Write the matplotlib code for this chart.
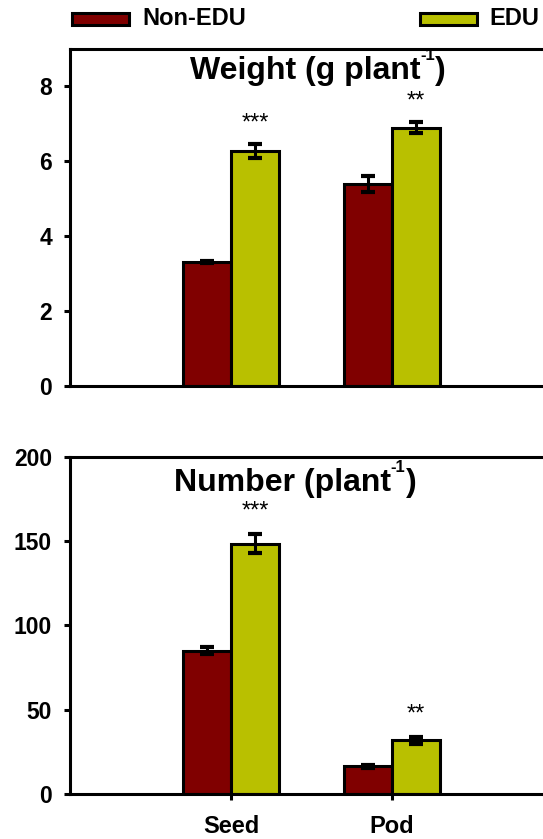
import matplotlib
matplotlib.use("Agg")
import matplotlib.pyplot as plt
from matplotlib.patches import Rectangle
from matplotlib.transforms import IdentityTransform
import numpy as np

plt.rcParams["font.family"] = ["Liberation Sans", "DejaVu Sans"]

categories = ["Seed", "Pod"]
series_names = ["Non-EDU", "EDU"]
series_colors = ["#800000", "#b9c000"]

weight_non = [3.31, 5.39]
weight_non_err = [0.03, 0.21]
weight_edu = [6.27, 6.90]
weight_edu_err = [0.19, 0.15]
weight_sig = ["***", "**"]

number_non = [85.0, 16.4]
number_non_err = [2.1, 1.0]
number_edu = [148.5, 31.8]
number_edu_err = [5.7, 2.3]
number_sig = ["***", "**"]

LW = 2.2
BAR_W = 0.30


def draw_panel(ax, non, non_err, edu, edu_err, sig, sig_off, ymax, yticks):
    x = np.arange(1, len(categories) + 1)
    ekw = dict(elinewidth=2.2, capthick=3.0, ecolor="black")
    ax.bar(x - BAR_W / 2, non, BAR_W, yerr=non_err, color=series_colors[0],
           edgecolor="black", linewidth=LW, capsize=4.7, error_kw=ekw, zorder=2)
    ax.bar(x + BAR_W / 2, edu, BAR_W, yerr=edu_err, color=series_colors[1],
           edgecolor="black", linewidth=LW, capsize=4.7, error_kw=ekw, zorder=2)
    for xi, v, e, s in zip(x, edu, edu_err, sig):
        ax.text(xi + BAR_W / 2, v + e + sig_off, s, ha="center", va="center", fontsize=17)
    ax.set_xlim(0, 3)
    ax.set_ylim(0, ymax)
    ax.set_yticks(yticks)
    ax.tick_params(axis="y", direction="out", length=4, width=LW, pad=9, labelsize=16.5)
    for lab in ax.get_yticklabels():
        lab.set_fontweight("bold")
    for sp in ax.spines.values():
        sp.set_linewidth(LW)
    return x


def sup_title(fig, cx, base_y, head, sup, tail):
    # head + small raised "-1" + tail, centred at cx (pixels), baseline at base_y (pixels)
    r = fig.canvas.get_renderer()
    big = dict(fontsize=23, fontweight="bold", va="baseline", ha="left",
               transform=IdentityTransform())
    small = dict(fontsize=12, fontweight="bold", va="baseline", ha="left",
                 transform=IdentityTransform())
    t1 = fig.text(0, 0, head, **big)
    t2 = fig.text(0, 0, sup, **small)
    t3 = fig.text(0, 0, tail, **big)
    w1 = t1.get_window_extent(r).width
    w2 = t2.get_window_extent(r).width
    w3 = t3.get_window_extent(r).width
    x0 = cx - (w1 + w2 + w3) / 2
    t1.set_position((x0, base_y))
    t2.set_position((x0 + w1, base_y + 19))
    t3.set_position((x0 + w1 + w2, base_y))


fig = plt.figure(figsize=(5.43, 8.39), dpi=100)
H = 839
ax1 = fig.add_axes([0.1289, 0.5400, 0.8895, 0.4017])
ax2 = fig.add_axes([0.1289, 0.0536, 0.8895, 0.4021])

draw_panel(ax1, weight_non, weight_non_err, weight_edu, weight_edu_err, weight_sig, 0.55,
           9, [0, 2, 4, 6, 8])
ax1.set_xticks([])

x = draw_panel(ax2, number_non, number_non_err, number_edu, number_edu_err, number_sig, 13,
               200, [0, 50, 100, 150, 200])
ax2.set_xticks(x)
ax2.set_xticklabels(categories, fontsize=17, fontweight="bold")
ax2.tick_params(axis="x", direction="out", length=4, width=LW, pad=11)

sup_title(fig, 318, H - 79, "Weight (g plant", "-1", ")")
sup_title(fig, 295, H - 491, "Number (plant", "-1", ")")

# legend row across the top
for xp, xt, name, col in zip([0.1326, 0.7735], [0.2615, 0.9006], series_names, series_colors):
    fig.add_artist(Rectangle((xp, 0.9702), 0.105, 0.0143, transform=fig.transFigure,
                             facecolor=col, edgecolor="black", linewidth=LW))
    fig.text(xt, 0.9774, name, ha="left", va="center", fontsize=17, fontweight="bold")

fig.savefig("out.png", dpi=100)
